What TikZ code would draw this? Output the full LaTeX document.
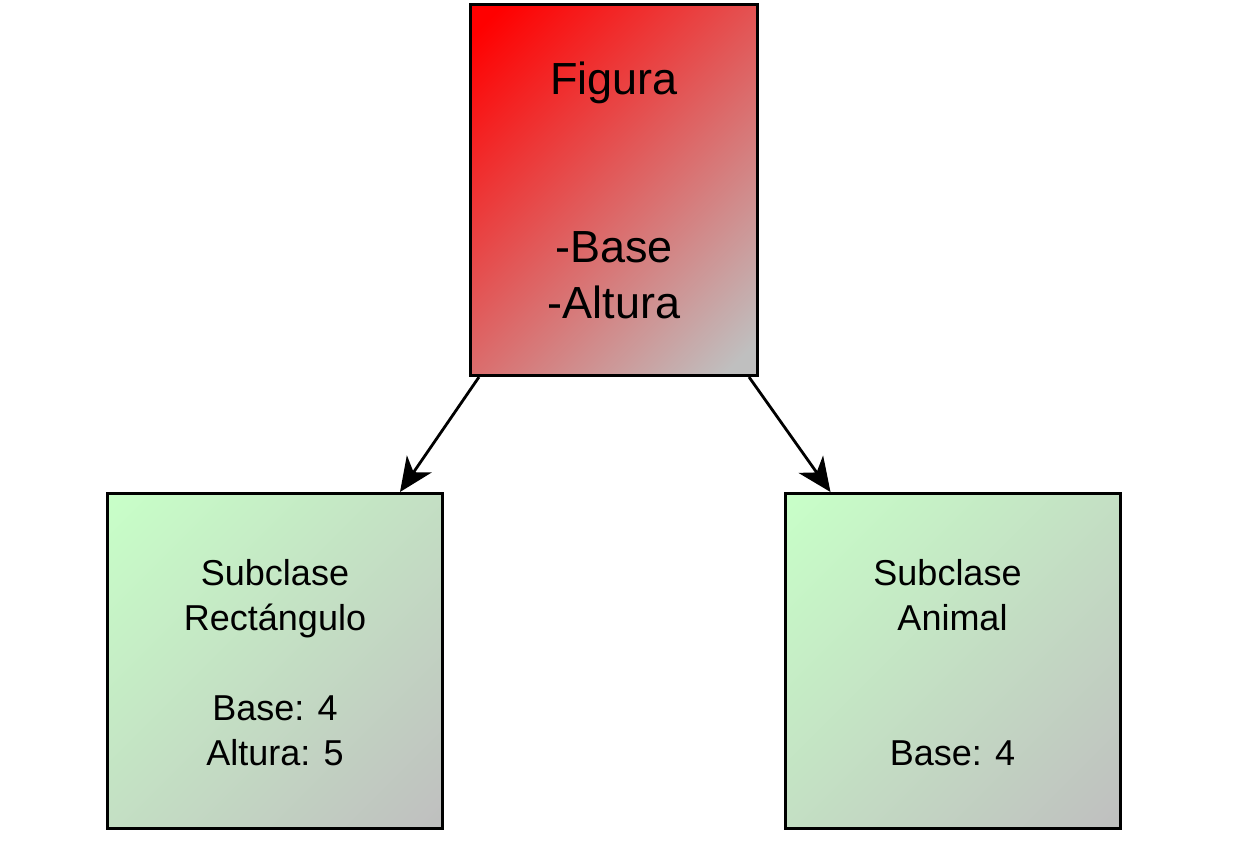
\documentclass[tikz,border=0pt]{standalone}
\usepackage{fontspec}
\setmainfont{Liberation Sans}
\usetikzlibrary{arrows.meta}
\definecolor{subgreen}{RGB}{200,255,200}
\pgfdeclarehorizontalshading{figshade}{100bp}{color(0bp)=(red); color(18bp)=(red); color(82bp)=(lightgray); color(100bp)=(lightgray)}
\pgfdeclarehorizontalshading{subshade}{100bp}{color(0bp)=(subgreen); color(15bp)=(subgreen); color(85bp)=(lightgray); color(100bp)=(lightgray)}

\begin{document}
\begin{tikzpicture}[x=1pt,y=-1pt,
  figbox/.style={draw=black, line width=3pt, minimum width=287pt, minimum height=371pt, shading=figshade, shading angle=-45},
  subbox/.style={draw=black, line width=3pt, minimum width=335pt, minimum height=335pt, shading=subshade, shading angle=-45},
  figtext/.style={align=center, inner sep=0, font=\fontsize{45}{56}\selectfont},
  subtext/.style={align=center, inner sep=0, font=\fontsize{36}{45}\selectfont},
  arr/.style={line width=2.8pt, -{Stealth[length=34pt,width=30pt,inset=10pt]}}]
\useasboundingbox (0,0) rectangle (1242,860);
% boxes
\node[figbox] (fig) at (614,190) {};
\node[subbox] (rect) at (275,661) {};
\node[subbox] (anim) at (952.5,661) {};
% texts
\node[figtext, anchor=north] (figtxt) at (614,62) {Figura\\[112pt]-Base\\-Altura};
\node[subtext, anchor=north] (recttxt) at (275,559) {Subclase\\Rectángulo\\[45pt]Base: 4\\Altura: 5};
\node[subtext, anchor=north] (animtxt) at (952.5,559) {Subclase\hspace*{10pt}\\Animal\\[90pt]Base: 4};
% arrows
\draw[arr] ([xshift=10pt]fig.south west) -- ([xshift=-44pt]rect.north east);
\draw[arr] ([xshift=-10pt]fig.south east) -- ([xshift=47pt]anim.north west);
\end{tikzpicture}
\end{document}
